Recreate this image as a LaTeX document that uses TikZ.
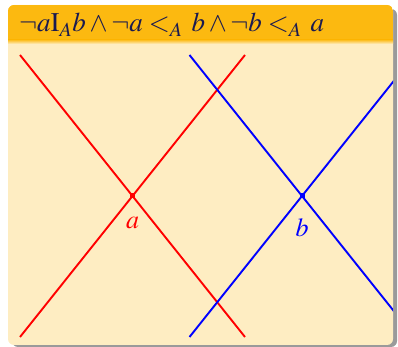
\documentclass[tikz,border=0pt]{standalone}
\usepackage{amsmath}
\usepackage{mathptmx}
\usepackage{tikz}
\usetikzlibrary{calc, positioning}
\definecolor{TitleBg}{HTML}{FCB910}
\definecolor{BodyBg}{HTML}{FEEDC2}
\definecolor{TitleText}{HTML}{1A1A50}
\definecolor{ShadowGray}{HTML}{9A9A9A}
\tikzset{
    xline/.style={line width=1.9pt},
    crossdot/.style={rectangle, inner sep=0pt, minimum size=5pt},
    lbl/.style={font=\fontsize{26}{30}\selectfont, inner sep=0pt},
    ttl/.style={font=\fontsize{27}{31}\selectfont, text=TitleText, inner sep=0pt, anchor=base west},
}
\begin{document}
\begin{tikzpicture}[x=1pt, y=1pt]
\useasboundingbox (0,0) rectangle (398,347);

% Block frame
\fill[ShadowGray, rounded corners=6pt] (12,0) rectangle (397,338);
\fill[BodyBg, rounded corners=6pt] (8,2) rectangle (393,342);
\begin{scope}
\clip[rounded corners=6pt] (8,2) rectangle (393,342);
\fill[TitleBg] (8,307) rectangle (393,342);
\shade[top color=TitleBg, bottom color=BodyBg] (8,303) rectangle (393,307.5);
\end{scope}
\node[ttl] (title) at (19,315) {$\neg a \mathrm{I}_A b \wedge \neg a <_A\, b \wedge \neg b <_A\, a$};

% Crossing points
\coordinate (a) at (132.5,151);
\coordinate (b) at (302,151);
\coordinate (a-nw) at ($(a)+(-112.5,141)$);
\coordinate (a-se) at ($(a)+(112.5,-141)$);
\coordinate (a-ne) at ($(a)+(112.5,141)$);
\coordinate (a-sw) at ($(a)+(-112.5,-141)$);
\coordinate (b-nw) at ($(b)+(-112.5,141)$);
\coordinate (b-se) at ($(b)+(112.5,-141)$);
\coordinate (b-ne) at ($(b)+(112.5,141)$);
\coordinate (b-sw) at ($(b)+(-112.5,-141)$);

% Lines
\begin{scope}
\clip (8,2) rectangle (393,307);
\draw[xline, red] (a-nw) -- (a-se);
\draw[xline, red] (a-sw) -- (a-ne);
\draw[xline, blue] (b-nw) -- (b-se);
\draw[xline, blue] (b-sw) -- (b-ne);
\end{scope}

% Points and labels
\node[crossdot, fill=red] (dot-a) at (a) {};
\node[crossdot, fill=blue] (dot-b) at (b) {};
\node[lbl, text=red] (lbl-a) at ($(a)+(0,-27)$) {$a$};
\node[lbl, text=blue] (lbl-b) at ($(b)+(0,-32)$) {$b$};

\end{tikzpicture}
\end{document}
